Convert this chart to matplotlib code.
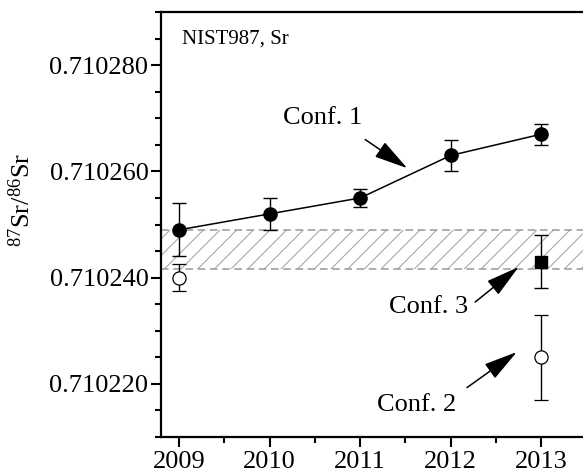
import matplotlib
matplotlib.use('Agg')
import matplotlib.pyplot as plt
from matplotlib.ticker import MultipleLocator, FormatStrFormatter

plt.rcParams['font.family'] = ['Liberation Serif', 'DejaVu Serif']
plt.rcParams['mathtext.fontset'] = 'custom'
plt.rcParams['mathtext.rm'] = 'Liberation Serif'
plt.rcParams['mathtext.default'] = 'regular'
plt.rcParams['hatch.linewidth'] = 0.8
plt.rcParams['hatch.color'] = '#a8a8a8'

# Conf. 1 series (filled circles, joined)
years_c1 = [2009, 2010, 2011, 2012, 2013]
sr_c1 = [0.710249, 0.710252, 0.710255, 0.710263, 0.710267]
err_c1 = [0.0000050, 0.0000030, 0.0000017, 0.0000030, 0.0000020]

# Conf. 2 series (open circles)
years_c2 = [2009, 2013]
sr_c2 = [0.710240, 0.710225]
err_c2 = [0.0000025, 0.0000080]

# Conf. 3 (single square)
years_c3 = [2013]
sr_c3 = [0.710243]
err_c3 = [0.0000050]

# certified band
band_lo = 0.7102416
band_hi = 0.710249

year_ticks = [2009, 2010, 2011, 2012, 2013]

fig = plt.figure(figsize=(5.83, 4.74), dpi=100)
ax = fig.add_axes([161 / 583, 37 / 474, 440 / 583, 425 / 474])

ax.fill_between([2008.8, 2013.7], band_lo, band_hi, facecolor='none',
                edgecolor='#a8a8a8', hatch='//', linewidth=0)
ax.axhline(band_lo, color='#999999', linestyle=(0, (5, 3)), linewidth=1.1)
ax.axhline(band_hi, color='#999999', linestyle=(0, (5, 3)), linewidth=1.1)

ebkw = dict(ecolor='black', elinewidth=1.0, capsize=5, capthick=1.0, zorder=3)
ax.errorbar(years_c1, sr_c1, yerr=err_c1, fmt='o-', color='black', lw=1.1,
            ms=9.5, **ebkw)
ax.errorbar(years_c2, sr_c2, yerr=err_c2, fmt='o', mfc='white', mec='black',
            mew=0.9, ms=9.5, **ebkw)
ax.errorbar(years_c3, sr_c3, yerr=err_c3, fmt='s', color='black', ms=8,
            **ebkw)

arrow = dict(arrowstyle='-|>,head_length=2.1,head_width=0.55', color='black',
             lw=1.1, shrinkA=0, shrinkB=0)
ax.annotate('', xy=(2011.52, 0.7102606), xytext=(2011.055, 0.710266),
            arrowprops=arrow)
ax.annotate('', xy=(2012.75, 0.710242), xytext=(2012.27, 0.7102354),
            arrowprops=arrow)
ax.annotate('', xy=(2012.73, 0.710226), xytext=(2012.18, 0.7102193),
            arrowprops=arrow)
ax.text(2010.58, 0.710270, 'Conf. 1', fontsize=19, ha='center', va='center')
ax.text(2011.76, 0.7102345, 'Conf. 3', fontsize=19, ha='center', va='center')
ax.text(2011.62, 0.710216, 'Conf. 2', fontsize=19, ha='center', va='center')
ax.text(0.048, 0.937, 'NIST987, Sr', fontsize=15, transform=ax.transAxes,
        ha='left', va='center')

ax.set_xlim(2008.8, 2013.66)
ax.set_ylim(0.71021, 0.71029)
ax.set_xticks(year_ticks)
ax.xaxis.set_minor_locator(MultipleLocator(0.5))
ax.yaxis.set_major_locator(MultipleLocator(0.00002))
ax.yaxis.set_minor_locator(MultipleLocator(0.000005))
ax.yaxis.set_major_formatter(FormatStrFormatter('%.6f'))

for s in ax.spines.values():
    s.set_linewidth(1.6)
ax.tick_params(which='major', direction='out', length=7, width=1.5,
               labelsize=19, pad=2)
ax.tick_params(which='minor', direction='out', length=4, width=1.5)
ax.tick_params(axis='x', pad=3)

fig.text(22 / 583, 1 - 200 / 474, '$^{87}$Sr/$^{86}$Sr', rotation=90,
         fontsize=19, ha='center', va='center')

fig.savefig('out.png', dpi=100)
